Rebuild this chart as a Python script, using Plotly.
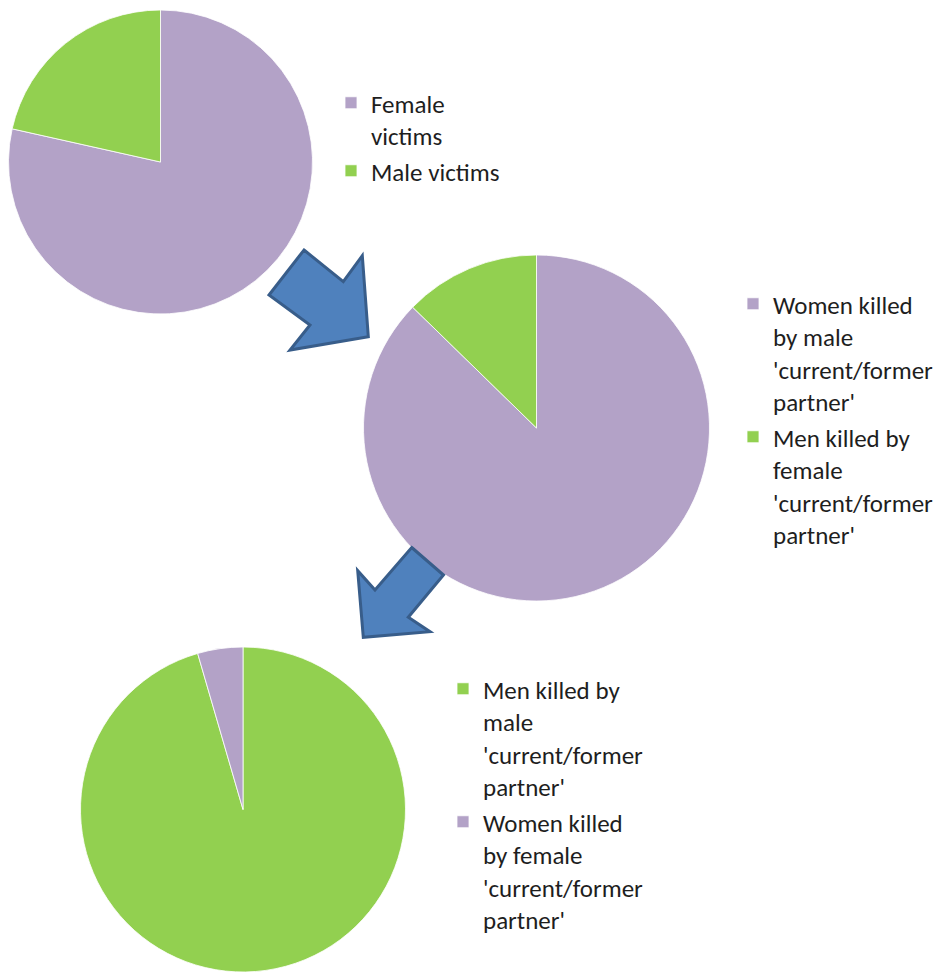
import plotly.graph_objects as go

# page is 947x972; the browser puts the figure 8px in from the top-left corner
OFF = 8
W, H = 947 - OFF, 972 - OFF

# ---- data (percent shares) ----
pie1_labels = ["Female<br>victims", "Male victims"]
pie1_values = [78.5, 21.5]
pie2_labels = ["Women killed<br>by male<br>'current/former<br>partner'",
               "Men killed by<br>female<br>'current/former<br>partner'"]
pie2_values = [87.3, 12.7]
pie3_labels = ["Men killed by<br>male<br>'current/former<br>partner'",
               "Women killed<br>by female<br>'current/former<br>partner'"]
pie3_values = [95.5, 4.5]

PURPLE = "#B3A2C7"
GREEN = "#92D050"
pie1_colors = [PURPLE, GREEN]
pie2_colors = [PURPLE, GREEN]
pie3_colors = [GREEN, PURPLE]

FONT = "Carlito, Calibri, Lato, sans-serif"
TXT = "#1e1e1e"


def px(x):
    return (x - OFF) / W


def py(y):
    return 1 - (y - OFF) / H


def dom(left, top, right, bottom):
    return dict(x=[px(left), px(right)], y=[py(bottom), min(1.0, py(top))])


fig = go.Figure()
fig.add_trace(go.Pie(labels=pie1_labels, values=pie1_values, sort=False,
                     direction="clockwise", rotation=0, textinfo="none",
                     marker=dict(colors=pie1_colors, line=dict(color="white", width=0.8)),
                     domain=dom(8.5, 10, 312.5, 314), legend="legend",
                     hoverinfo="label+percent"))
fig.add_trace(go.Pie(labels=pie2_labels, values=pie2_values, sort=False,
                     direction="clockwise", rotation=0, textinfo="none",
                     marker=dict(colors=pie2_colors, line=dict(color="white", width=0.8)),
                     domain=dom(363.5, 255, 709.5, 601), legend="legend2",
                     hoverinfo="label+percent"))
fig.add_trace(go.Pie(labels=pie3_labels, values=pie3_values, sort=False,
                     direction="clockwise", rotation=0, textinfo="none",
                     marker=dict(colors=pie3_colors, line=dict(color="white", width=0.8)),
                     domain=dom(80.5, 647, 405.5, 972), legend="legend3",
                     hoverinfo="label+percent"))

# ---- decorative block arrows (page-pixel outlines) ----
arrow1 = [(304, 250), (343.3, 281.7), (362.3, 255.7), (368.3, 336.7),
          (290, 350), (310, 325), (269, 295)]
arrow2 = [(411.7, 547.5), (443.5, 575), (408.3, 617.3), (430, 631.7),
          (363.3, 637.3), (357.7, 570.7), (375, 590)]


def path_of(pts):
    return "M" + " L".join(f"{px(x):.5f},{py(y):.5f}" for x, y in pts) + " Z"


shapes = []
for pts in (arrow1, arrow2):
    shapes.append(dict(type="path", xref="paper", yref="paper", path=path_of(pts),
                       fillcolor="#4F81BD", line=dict(color="#385D8A", width=3),
                       layer="above"))


def leg(left, top):
    return dict(x=px(left), y=py(top), xanchor="left", yanchor="top",
                bgcolor="rgba(0,0,0,0)", borderwidth=0, valign="top",
                font=dict(family=FONT, size=25, color=TXT))


fig.update_layout(
    width=W, height=H,
    margin=dict(l=0, r=0, t=0, b=0, pad=0, autoexpand=False),
    paper_bgcolor="white", plot_bgcolor="white",
    showlegend=True,
    legend=leg(331, 80),
    legend2=leg(733, 281),
    legend3=leg(443, 666),
    shapes=shapes,
)

fig.write_html("out.html")
